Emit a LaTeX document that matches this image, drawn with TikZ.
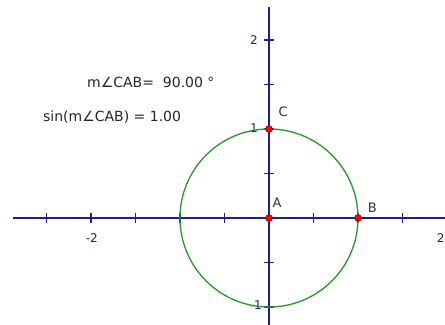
\documentclass[tikz,border=0pt]{standalone}
\usepackage{fontspec}
\setmainfont{DejaVu Sans}
\begin{document}
\begin{tikzpicture}[x=89pt,y=89pt,
  axis/.style={draw=axisblue,line width=1.5pt},
  tick/.style={draw=axisblue,line width=1.3pt},
  ticklab/.style={text=axisblue,font=\fontsize{12}{14}\selectfont,inner sep=0pt},
  circ/.style={draw=circgreen,line width=1.3pt},
  pt/.style={circle,fill=red,draw=red!50!black,line width=0.5pt,inner sep=0pt,minimum size=7pt},
  lab/.style={font=\fontsize{13}{15}\selectfont,text=black!80,inner sep=0pt},
  meas/.style={font=\fontsize{14}{16}\selectfont,text=black!85,inner sep=0pt,anchor=west}]
\definecolor{axisblue}{RGB}{30,30,140}
\definecolor{circgreen}{RGB}{40,150,40}
\useasboundingbox (-3.0225,-1.2022) rectangle (1.9775,2.4494);
\fill[white] (-3.0225,-1.2022) rectangle (1.9775,2.4494);
% axes
\coordinate (xl) at (-2.876,0);
\coordinate (xr) at (1.98,0);
\coordinate (yb) at (0,-1.21);
\coordinate (yt) at (0,2.371);
\draw[axis] (xl) -- (xr);
\draw[axis] (yb) -- (yt);
% ticks
\foreach \t in {-2.5,-2,-1.5,-1,-0.5,0.5,1,1.5}
  \draw[tick] (\t,-0.06) -- (\t,0.06);
\foreach \t in {-1,-0.5,0.5,1,1.5,2}
  \draw[tick] (-0.06,\t) -- (0.06,\t);
% tick labels
\node[ticklab] (lxm2) at (-1.99,-0.225) {-2};
\node[ticklab] (lx2) at (1.93,-0.225) {2};
\node[ticklab] (ly2) at (-0.17,2) {2};
\node[ticklab] (ly1) at (-0.17,1.01) {1};
\node[ticklab] (lym1) at (-0.15,-0.98) {-1};
% circle
\coordinate (Ac) at (0,0);
\draw[circ] (Ac) circle[radius=1];
% points
\node[pt] (A) at (0,0) {};
\node[pt] (B) at (1,0) {};
\node[pt] (C) at (0,1) {};
\node[lab] (lA) at (0.09,0.17) {A};
\node[lab] (lB) at (1.16,0.11) {B};
\node[lab] (lC) at (0.16,1.19) {C};
% measurements
\node[meas] (m1) at (-2.045,1.52) {m∠CAB= \ 90.00 °};
\node[meas] (m2) at (-2.54,1.135) {sin(m∠CAB) = 1.00};
\end{tikzpicture}
\end{document}
